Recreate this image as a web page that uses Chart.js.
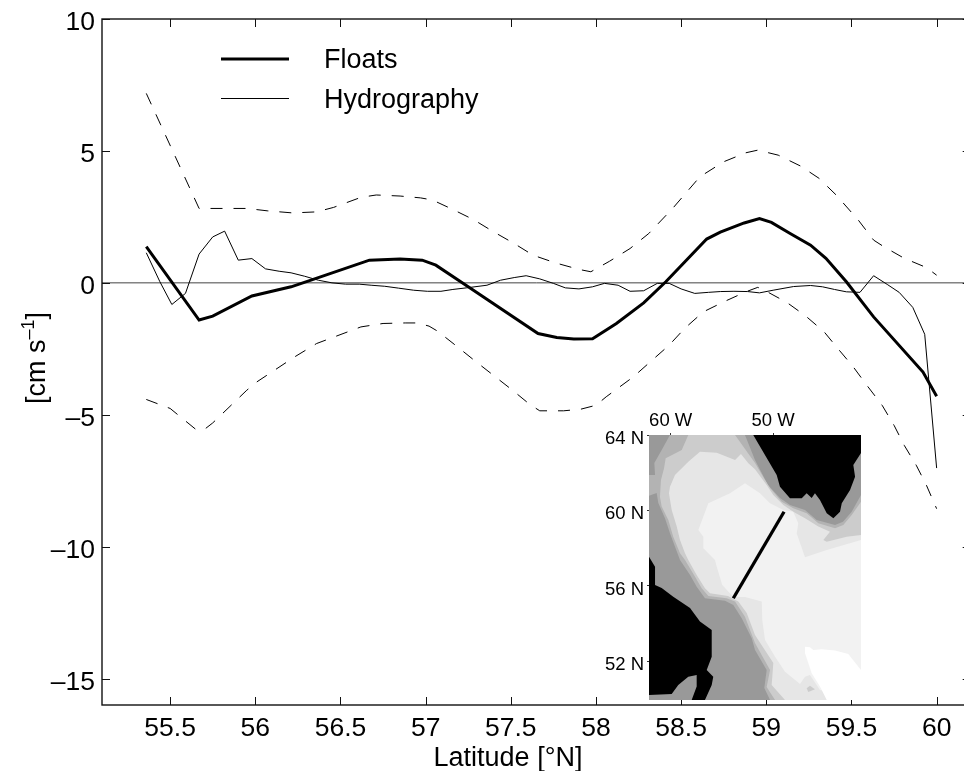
<!DOCTYPE html>
<html>
<head>
<meta charset="utf-8">
<title>Floats and hydrography</title>
<script src="https://cdn.jsdelivr.net/npm/chart.js@4.4.0/dist/chart.umd.min.js"></script>
<style>
  html, body { margin: 0; padding: 0; background: #fff; width: 964px; height: 771px; overflow: hidden; }
  #wrap { position: relative; width: 964px; height: 771px; overflow: hidden; }
  #main { position: absolute; left: 0; top: 0; }
  #inset { position: absolute; left: 590px; top: 405px; }
</style>
</head>
<body>
<div id="wrap">
  <canvas id="main" width="1000" height="771"></canvas>
  <canvas id="inset" width="280" height="300"></canvas>
</div>
<script>
// Main panel data
const floatsLat = [55.36, 55.67, 55.75, 55.98, 56.21, 56.34, 56.67, 56.85, 56.98, 57.06, 57.25, 57.66, 57.77, 57.87, 57.98, 58.12, 58.28, 58.41, 58.65, 58.73, 58.87, 58.96, 59.03, 59.14, 59.26, 59.35, 59.47, 59.63, 59.92, 60.0];
const floatsVal = [1.37, -1.41, -1.26, -0.50, -0.15, 0.13, 0.86, 0.90, 0.86, 0.67, -0.15, -1.92, -2.07, -2.13, -2.12, -1.54, -0.76, 0.04, 1.66, 1.92, 2.27, 2.44, 2.29, 1.87, 1.43, 0.93, 0.04, -1.29, -3.38, -4.30];

const upperLat = [55.36, 55.67, 55.95, 56.07, 56.22, 56.36, 56.46, 56.62, 56.71, 56.85, 56.97, 57.04, 57.16, 57.28, 57.40, 57.52, 57.63, 57.76, 57.90, 57.97, 58.08, 58.20, 58.31, 58.45, 58.61, 58.75, 58.88, 58.95, 59.07, 59.20, 59.31, 59.41, 59.54, 59.63, 59.69, 59.81, 59.94, 60.0];
const upperVal = [7.18, 2.82, 2.82, 2.73, 2.65, 2.69, 2.86, 3.24, 3.33, 3.29, 3.22, 3.14, 2.78, 2.40, 1.93, 1.49, 1.05, 0.76, 0.51, 0.42, 0.82, 1.30, 1.87, 2.82, 4.02, 4.59, 4.93, 5.03, 4.84, 4.43, 3.96, 3.33, 2.38, 1.62, 1.37, 0.93, 0.58, 0.29];

const lowerLat = [55.36, 55.50, 55.65, 55.70, 55.75, 55.95, 56.01, 56.23, 56.36, 56.62, 56.75, 56.88, 56.95, 57.02, 57.07, 57.18, 57.29, 57.51, 57.61, 57.67, 57.81, 57.91, 58.0, 58.06, 58.22, 58.33, 58.43, 58.52, 58.63, 58.75, 58.88, 58.95, 59.0, 59.12, 59.23, 59.34, 59.42, 59.51, 59.59, 59.68, 59.75, 59.81, 59.88, 59.94, 60.0];
const lowerVal = [-4.42, -4.76, -5.55, -5.56, -5.31, -4.07, -3.75, -2.81, -2.30, -1.67, -1.54, -1.52, -1.52, -1.64, -1.83, -2.39, -2.96, -4.07, -4.60, -4.85, -4.85, -4.79, -4.64, -4.32, -3.56, -2.93, -2.36, -1.73, -1.10, -0.72, -0.34, -0.17, -0.32, -0.74, -1.25, -1.86, -2.49, -3.18, -3.88, -4.64, -5.40, -6.16, -6.91, -7.67, -8.56];

const hydroLat = [55.36, 55.44, 55.51, 55.59, 55.67, 55.75, 55.82, 55.90, 55.98, 56.06, 56.14, 56.21, 56.29, 56.37, 56.45, 56.53, 56.61, 56.68, 56.76, 56.84, 56.93, 57.01, 57.09, 57.16, 57.24, 57.36, 57.44, 57.52, 57.59, 57.67, 57.75, 57.82, 57.90, 57.98, 58.05, 58.13, 58.20, 58.28, 58.36, 58.43, 58.50, 58.58, 58.66, 58.73, 58.81, 58.89, 58.96, 59.04, 59.16, 59.26, 59.33, 59.40, 59.47, 59.55, 59.63, 59.71, 59.78, 59.86, 59.93, 60.0];
const hydroVal = [1.14, 0.04, -0.82, -0.40, 1.09, 1.74, 1.96, 0.86, 0.92, 0.53, 0.44, 0.38, 0.25, 0.10, 0, -0.05, -0.05, -0.09, -0.13, -0.20, -0.28, -0.32, -0.32, -0.25, -0.19, -0.09, 0.10, 0.20, 0.27, 0.15, -0.02, -0.19, -0.23, -0.15, -0.02, -0.09, -0.32, -0.30, -0.02, -0.02, -0.23, -0.40, -0.36, -0.33, -0.32, -0.33, -0.38, -0.28, -0.14, -0.10, -0.15, -0.25, -0.34, -0.36, 0.27, -0.06, -0.36, -0.93, -1.95, -7.02];

const zeroLat = [55.1, 60.2];
const zeroVal = [0, 0];

const seriesLabels = ['Floats', 'Hydrography'];
const xTitle = 'Latitude [°N]';
const yTitleParts = ['[cm s', '–1', ']'];

// Inset map data, lon (deg E) / lat (deg N) outlines of the depth bands
const mapLonRange = [-62.12, -41.40];
const mapLatRange = [49.94, 64];

const baseLon = [-62.12, -41.40, -41.40, -62.12];
const baseLat = [64, 64, 49.94, 49.94];

const band1Lon = [-60.07, -52.74, -51.76, -50.49, -49.32, -48.34, -46.87, -45.73, -43.94, -43.16, -42.31, -41.40, -41.40, -50.29, -50.85, -50.62, -51.76, -52.08, -53.06, -53.88, -54.69, -56.65, -57.46, -58.11, -59.09, -60.07, -60.56, -61.21, -61.37, -62.12, -62.12, -61.53, -61.60, -60.88];
const band1Lat = [64, 64, 62.67, 61.35, 60.66, 60.29, 60.02, 59.49, 59.23, 59.40, 59.93, 60.82, 49.94, 49.94, 50.58, 51.53, 52.59, 53.21, 54.28, 54.98, 55.21, 55.34, 55.95, 56.57, 57.37, 58.79, 59.58, 60.39, 60.92, 60.78, 61.88, 61.88, 62.51, 63.20];

const band2Lon = [-58.28, -53.71, -51.76, -50.78, -50.29, -49.15, -48.02, -46.71, -45.57, -43.94, -43.13, -42.31, -41.40, -41.40, -49.80, -50.62, -50.29, -51.76, -52.74, -53.71, -54.53, -56.32, -56.97, -57.62, -58.60, -59.09, -59.75, -60.23, -60.88, -61.05, -60.95, -60.65, -60.49, -58.92];
const band2Lat = [64, 64, 62.51, 61.61, 61.19, 60.46, 60.11, 59.85, 59.32, 59.05, 59.23, 59.76, 60.46, 49.94, 49.94, 50.63, 51.53, 52.97, 54.36, 55.16, 55.34, 55.46, 55.87, 56.48, 57.37, 57.72, 58.60, 59.49, 60.20, 60.73, 61.61, 62.23, 62.76, 63.20];

const band3Lon = [-60.07, -59.58, -58.28, -57.14, -55.50, -53.71, -53.13, -52.41, -51.76, -50.62, -49.97, -48.99, -48.02, -46.87, -45.57, -44.43, -45.08, -44.75, -42.80, -41.40, -41.40, -48.83, -50.13, -49.97, -51.76, -52.57, -53.39, -54.40, -56.16, -56.65, -57.46, -58.28, -58.60, -59.09, -59.41, -59.90, -60.17];
const band3Lat = [61.26, 61.88, 62.58, 63.11, 63.06, 62.67, 62.99, 62.50, 62.18, 61.35, 60.82, 60.29, 59.93, 59.58, 59.14, 58.87, 58.43, 58.34, 58.60, 58.69, 49.94, 49.94, 50.74, 51.90, 53.39, 54.55, 55.16, 55.46, 55.60, 55.87, 56.57, 57.37, 57.72, 58.43, 59.14, 60.02, 60.91];

const band4Lon = [-57.30, -56.32, -54.20, -52.74, -51.27, -50.29, -48.99, -48.02, -47.53, -47.68, -46.87, -44.75, -41.40, -41.40, -45.41, -46.39, -46.87, -47.36, -48.83, -49.80, -50.78, -51.05, -51.10, -52.74, -53.88, -54.96, -55.50, -55.67, -56.81, -56.81];
const band4Lat = [58.96, 60.38, 60.91, 61.44, 60.91, 60.38, 60.02, 59.93, 59.32, 58.78, 57.51, 57.90, 58.43, 49.94, 50.47, 51.27, 51.18, 50.79, 51.44, 52.24, 53.12, 54.19, 55.16, 55.41, 55.41, 56.04, 57.01, 57.37, 57.99, 58.60];

const band5Lon = [-46.87, -46.39, -46.06, -45.24, -43.94, -42.64, -41.40, -41.40, -44.75, -45.41, -46.22, -46.87];
const band5Lat = [52.77, 52.74, 52.59, 52.63, 52.56, 52.38, 51.53, 49.94, 49.94, 50.65, 51.36, 52.42];

const shoalLon = [-46.71, -46.39, -45.90, -46.55];
const shoalLat = [50.56, 50.69, 50.51, 50.37];

const greenlandLon = [-41.40, -41.40, -42.15, -41.98, -42.47, -43.28, -43.45, -44.10, -44.75, -45.41, -45.90, -46.22, -46.71, -47.19, -48.34, -49.32, -49.64, -51.93];
const greenlandLat = [64, 63.05, 62.41, 61.79, 61.08, 60.38, 59.93, 59.58, 59.85, 60.55, 60.91, 60.66, 60.91, 60.64, 60.64, 61.26, 61.88, 64];

const labradorLon = [-62.12, -61.53, -61.53, -60.88, -59.75, -58.11, -57.14, -55.99, -55.99, -56.48, -55.84, -55.99, -56.65, -57.95, -57.46, -57.46, -58.28, -59.26, -59.90, -62.12];
const labradorLat = [57.54, 57.01, 56.04, 55.88, 55.42, 54.82, 54.10, 53.66, 52.24, 51.53, 51.18, 50.74, 49.94, 49.94, 50.65, 51.27, 51.18, 50.74, 50.26, 50.21];

const transectLon = [-53.88, -48.92];
const transectLat = [55.34, 59.93];

const FONT = '"Liberation Sans", Arial, Helvetica, sans-serif';

function pairs(xs, ys) {
  return xs.map((x, i) => ({ x: x, y: ys[i] }));
}

function lineSet(label, xs, ys, width, dash, color) {
  return {
    label: label,
    data: pairs(xs, ys),
    borderColor: color || '#000',
    borderWidth: width,
    borderDash: dash || [],
    borderCapStyle: 'butt',
    borderJoinStyle: 'miter',
    pointRadius: 0,
    tension: 0,
    fill: false
  };
}

// stop the tick labels from eating into the plot height
function fixBox(s, w, h) {
  if (w) s.width = w;
  if (h) s.height = h;
  s.paddingTop = 0;
  s.paddingBottom = 0;
  s.paddingLeft = 0;
  s.paddingRight = 0;
}

// labels in the original sit a little below their ticks
function nudgeLabels(s, dy) {
  const compute = s._computeLabelItems;
  s._computeLabelItems = function(area) {
    const items = compute.call(this, area);
    items.forEach(item => { item.options.translation[1] += dy; });
    return items;
  };
}

// Frame, inward ticks, legend and axis titles
const framePlugin = {
  id: 'frame',
  afterDatasetsDraw: function(chart) {
    const ctx = chart.ctx;
    const a = chart.chartArea;
    const tickLen = 8;
    ctx.save();
    ctx.strokeStyle = '#111';
    ctx.lineWidth = 1;
    ctx.beginPath();
    chart.scales.x.ticks.forEach(t => {
      const px = Math.round(chart.scales.x.getPixelForValue(t.value)) + 0.5;
      ctx.moveTo(px, a.bottom); ctx.lineTo(px, a.bottom - tickLen);
      ctx.moveTo(px, a.top); ctx.lineTo(px, a.top + tickLen);
    });
    chart.scales.y.ticks.forEach(t => {
      const py = Math.round(chart.scales.y.getPixelForValue(t.value)) + 0.5;
      ctx.moveTo(a.left, py); ctx.lineTo(a.left + tickLen, py);
      ctx.moveTo(a.right, py); ctx.lineTo(a.right - tickLen, py);
    });
    ctx.stroke();
    ctx.lineWidth = 1.4;
    ctx.strokeRect(a.left, a.top, a.right - a.left, a.bottom - a.top);

    // legend
    const rows = [
      { ds: chart.data.datasets[0], y: 59 },
      { ds: chart.data.datasets[1], y: 98.5 }
    ];
    ctx.fillStyle = '#000';
    ctx.font = '27px ' + FONT;
    ctx.textBaseline = 'alphabetic';
    rows.forEach(r => {
      ctx.strokeStyle = r.ds.borderColor;
      ctx.lineWidth = r.ds.borderWidth;
      ctx.beginPath();
      ctx.moveTo(221, r.y);
      ctx.lineTo(289, r.y);
      ctx.stroke();
      ctx.fillText(r.ds.label, 324, Math.round(r.y) + 9);
    });

    // x title
    ctx.textAlign = 'center';
    ctx.fillText(xTitle, 508, 766);

    // y title with a raised exponent
    ctx.translate(45, 358);
    ctx.rotate(-Math.PI / 2);
    ctx.textAlign = 'left';
    const w0 = ctx.measureText(yTitleParts[0]).width;
    const w2 = ctx.measureText(yTitleParts[2]).width;
    ctx.font = '18px ' + FONT;
    const w1 = ctx.measureText(yTitleParts[1]).width;
    const start = -(w0 + w1 + w2) / 2;
    ctx.fillText(yTitleParts[1], start + w0, -11);
    ctx.font = '27px ' + FONT;
    ctx.fillText(yTitleParts[0], start, 0);
    ctx.fillText(yTitleParts[2], start + w0 + w1, 0);
    ctx.restore();
  }
};

new Chart(document.getElementById('main'), {
  type: 'line',
  data: {
    datasets: [
      lineSet(seriesLabels[0], floatsLat, floatsVal, 3),
      lineSet(seriesLabels[1], hydroLat, hydroVal, 1),
      lineSet('upper', upperLat, upperVal, 1, [12, 11]),
      lineSet('lower', lowerLat, lowerVal, 1, [12, 11]),
      lineSet('zero', zeroLat, zeroVal, 1, [], '#444')
    ]
  },
  options: {
    responsive: false,
    animation: false,
    devicePixelRatio: 1,
    layout: { autoPadding: false, padding: { top: 19, right: 29.3, bottom: 0, left: 0 } },
    plugins: { legend: { display: false }, title: { display: false }, tooltip: { enabled: false } },
    scales: {
      x: {
        type: 'linear',
        min: 55.1,
        max: 60.2,
        afterFit: s => fixBox(s, 0, 66),
        grid: { display: false, drawTicks: false },
        border: { display: false },
        ticks: {
          stepSize: 0.5,
          includeBounds: false,
          padding: 8,
          maxRotation: 0,
          autoSkip: false,
          color: '#000',
          font: { family: FONT, size: 26.5 },
          callback: v => String(v)
        }
      },
      y: {
        type: 'linear',
        min: -16,
        max: 10,
        afterFit: s => { fixBox(s, 102, 0); nudgeLabels(s, 2); },
        grid: { display: false, drawTicks: false },
        border: { display: false },
        ticks: {
          stepSize: 5,
          includeBounds: false,
          padding: 7,
          autoSkip: false,
          color: '#000',
          font: { family: FONT, size: 26.5 },
          callback: v => (v < 0 ? '–' + Math.abs(v) : String(v))
        }
      }
    }
  },
  plugins: [framePlugin]
});

function bandSet(xs, ys, color) {
  return {
    data: pairs(xs, ys),
    borderWidth: 0,
    borderColor: color,
    backgroundColor: color,
    pointRadius: 0,
    tension: 0,
    fill: 'shape'
  };
}

// first dataset is painted last, so the list runs from the top layer down
new Chart(document.getElementById('inset'), {
  type: 'line',
  data: {
    datasets: [
      lineSet('transect', transectLon, transectLat, 3.3),
      bandSet(greenlandLon, greenlandLat, '#000'),
      bandSet(labradorLon, labradorLat, '#000'),
      bandSet(shoalLon, shoalLat, '#cccccc'),
      bandSet(band5Lon, band5Lat, '#ffffff'),
      bandSet(band4Lon, band4Lat, '#f2f2f2'),
      bandSet(band3Lon, band3Lat, '#e6e6e6'),
      bandSet(band2Lon, band2Lat, '#cccccc'),
      bandSet(band1Lon, band1Lat, '#b3b3b3'),
      bandSet(baseLon, baseLat, '#999999')
    ]
  },
  options: {
    responsive: false,
    animation: false,
    devicePixelRatio: 1,
    layout: { autoPadding: false, padding: { top: 0, right: 9, bottom: 5, left: 0 } },
    plugins: { legend: { display: false }, title: { display: false }, tooltip: { enabled: false } },
    scales: {
      x: {
        type: 'linear',
        position: 'top',
        min: mapLonRange[0],
        max: mapLonRange[1],
        afterFit: s => fixBox(s, 0, 30),
        grid: { drawOnChartArea: false, tickLength: 2, color: '#333' },
        border: { display: false },
        ticks: {
          stepSize: 10,
          includeBounds: false,
          padding: 1,
          maxRotation: 0,
          autoSkip: false,
          color: '#000',
          font: { family: FONT, size: 18.5 },
          callback: v => Math.abs(v) + ' W'
        }
      },
      y: {
        type: 'linear',
        min: mapLatRange[0],
        max: mapLatRange[1],
        afterFit: s => { fixBox(s, 59, 0); nudgeLabels(s, 2); },
        grid: { drawOnChartArea: false, tickLength: 2, color: '#333' },
        border: { display: false },
        ticks: {
          stepSize: 4,
          includeBounds: false,
          padding: 3,
          autoSkip: false,
          color: '#000',
          font: { family: FONT, size: 18.5 },
          callback: v => v + ' N'
        }
      }
    }
  }
});
</script>
</body>
</html>
